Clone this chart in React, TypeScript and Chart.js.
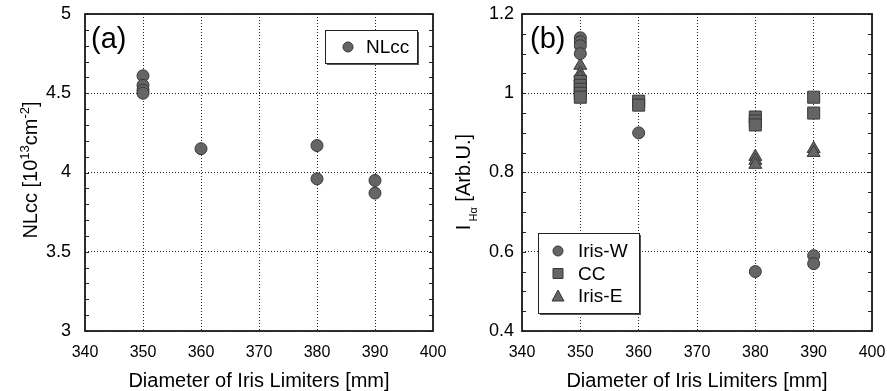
import React, { useEffect, useRef } from "react";
import { Chart, registerables } from "chart.js";
Chart.register(...registerables);

// ---- data ----
const xMin = 340;
const xMax = 400;
const xStep = 10;

const nlccX = [350, 350, 350, 350, 360, 380, 380, 390, 390];
const nlccY = [4.61, 4.55, 4.52, 4.5, 4.15, 4.17, 3.96, 3.95, 3.87];

const irisWX = [350, 350, 350, 350, 360, 380, 390, 390];
const irisWY = [1.14, 1.13, 1.12, 1.1, 0.9, 0.55, 0.59, 0.57];

const ccX = [350, 350, 350, 350, 350, 360, 360, 380, 380, 380, 390, 390];
const ccY = [1.03, 1.02, 1.01, 1.0, 0.99, 0.98, 0.97, 0.94, 0.93, 0.92, 0.99, 0.95];

const irisEX = [350, 350, 350, 380, 380, 380, 390, 390];
const irisEY = [1.07, 1.05, 1.04, 0.84, 0.83, 0.82, 0.86, 0.85];

const FONT = "'Liberation Sans', Arial, Helvetica, sans-serif";
const MARK_FILL = "#656565";
const MARK_EDGE = "#383838";

const pts = (xs: number[], ys: number[]) => xs.map((x, i) => ({ x, y: ys[i] }));
const fmt = (v: any) => String(Number(Number(v).toFixed(2)));

type Part = { t: string; size: number; dy: number };

function drawRotated(ctx: CanvasRenderingContext2D, parts: Part[], baseX: number, centerY: number) {
  ctx.save();
  ctx.translate(baseX, centerY);
  ctx.rotate(-Math.PI / 2);
  ctx.fillStyle = "#000";
  ctx.textBaseline = "alphabetic";
  ctx.textAlign = "left";
  let total = 0;
  for (const p of parts) {
    ctx.font = `${p.size}px ${FONT}`;
    total += ctx.measureText(p.t).width;
  }
  let x = -total / 2;
  for (const p of parts) {
    ctx.font = `${p.size}px ${FONT}`;
    ctx.fillText(p.t, x, p.dy);
    x += ctx.measureText(p.t).width;
  }
  ctx.restore();
}

function drawMarker(ctx: CanvasRenderingContext2D, style: string, x: number, y: number) {
  ctx.save();
  ctx.fillStyle = MARK_FILL;
  ctx.strokeStyle = MARK_EDGE;
  ctx.lineWidth = 1;
  ctx.beginPath();
  if (style === "circle") {
    ctx.arc(x, y, 5, 0, Math.PI * 2);
  } else if (style === "rect") {
    ctx.rect(x - 5, y - 5, 10, 10);
  } else {
    ctx.moveTo(x, y - 6);
    ctx.lineTo(x + 6, y + 5);
    ctx.lineTo(x - 6, y + 5);
    ctx.closePath();
  }
  ctx.fill();
  ctx.stroke();
  ctx.restore();
}

type PanelCfg = {
  label: string;
  yMin: number;
  yMax: number;
  yStep: number;
  yMinor: number;
  yTitle: Part[];
  yTitleX: number;
  yTitleY: number;
  legend: { x: number; y: number; w: number; h: number; rowH: number; symX: number; textX: number; firstY: number; font: number };
  labelPos: { x: number; y: number };
};

function makePlugin(cfg: PanelCfg) {
  return {
    id: "decor",
    afterDraw(chart: any) {
      const ctx: CanvasRenderingContext2D = chart.ctx;
      const a = chart.chartArea;
      const ys = chart.scales.y;
      ctx.save();
      // minor ticks
      ctx.strokeStyle = "#222";
      ctx.lineWidth = 1;
      const n = Math.round((cfg.yMax - cfg.yMin) / cfg.yMinor);
      for (let i = 0; i <= n; i++) {
        const v = cfg.yMin + i * cfg.yMinor;
        const py = Math.round(ys.getPixelForValue(v)) + 0.5;
        ctx.beginPath();
        ctx.moveTo(a.left, py);
        ctx.lineTo(a.left + 4, py);
        ctx.moveTo(a.right, py);
        ctx.lineTo(a.right - 4, py);
        ctx.stroke();
      }
      // frame
      ctx.strokeStyle = "#1a1a1a";
      ctx.lineWidth = 1.8;
      ctx.strokeRect(a.left, a.top, a.right - a.left, a.bottom - a.top);
      // panel label
      ctx.fillStyle = "#000";
      ctx.font = `29px ${FONT}`;
      ctx.textBaseline = "middle";
      ctx.textAlign = "left";
      ctx.fillText(cfg.label, cfg.labelPos.x, cfg.labelPos.y);
      // legend
      const L = cfg.legend;
      ctx.fillStyle = "#555";
      ctx.fillRect(L.x + 2, L.y + 2, L.w, L.h);
      ctx.fillStyle = "#fff";
      ctx.fillRect(L.x, L.y, L.w, L.h);
      ctx.strokeStyle = "#222";
      ctx.lineWidth = 1;
      ctx.strokeRect(L.x + 0.5, L.y + 0.5, L.w, L.h);
      chart.data.datasets.forEach((ds: any, i: number) => {
        const cy = L.firstY + i * L.rowH;
        drawMarker(ctx, ds.pointStyle, L.symX, cy);
        ctx.fillStyle = "#000";
        ctx.font = `${L.font}px ${FONT}`;
        ctx.textBaseline = "middle";
        ctx.textAlign = "left";
        ctx.fillText(ds.label, L.textX, cy + 1);
      });
      // y title
      drawRotated(ctx, cfg.yTitle, cfg.yTitleX, cfg.yTitleY);
      // x title
      ctx.fillStyle = "#000";
      ctx.font = `20px ${FONT}`;
      ctx.textAlign = "center";
      ctx.textBaseline = "alphabetic";
      ctx.fillText("Diameter of Iris Limiters [mm]", (a.left + a.right) / 2, 387);
      ctx.restore();
    },
  };
}

function Panel(props: {
  left: number;
  width: number;
  yAxisWidth: number;
  rightPad: number;
  yPad: number;
  datasets: any[];
  cfg: PanelCfg;
}) {
  const ref = useRef<HTMLCanvasElement>(null);
  useEffect(() => {
    if (!ref.current) return;
    const { cfg } = props;
    const chart = new Chart(ref.current, {
      type: "scatter",
      data: { datasets: props.datasets },
      options: {
        animation: false,
        responsive: false,
        devicePixelRatio: 1,
        layout: { padding: { left: 0, top: 14, right: props.rightPad, bottom: 0 } },
        plugins: { legend: { display: false }, tooltip: { enabled: false } },
        scales: {
          x: {
            type: "linear",
            min: xMin,
            max: xMax,
            ticks: { stepSize: xStep, color: "#000", font: { size: 16, family: FONT }, padding: 12, callback: fmt },
            grid: { color: "#222", lineWidth: 1, drawTicks: false },
            border: { display: false, dash: [1, 2] },
            afterFit: (s: any) => {
              s.height = 60;
              s.paddingLeft = 0;
              s.paddingRight = 0;
            },
          },
          y: {
            type: "linear",
            min: cfg.yMin,
            max: cfg.yMax,
            ticks: { stepSize: cfg.yStep, color: "#000", font: { size: 18, family: FONT }, padding: props.yPad, callback: fmt },
            grid: { color: "#222", lineWidth: 1, drawTicks: false },
            border: { display: false, dash: [1, 2] },
            afterFit: (s: any) => {
              s.width = props.yAxisWidth;
              s.paddingTop = 0;
              s.paddingBottom = 0;
            },
          },
        },
      } as any,
      plugins: [makePlugin(cfg)],
    });
    return () => chart.destroy();
  }, []);
  return (
    <canvas
      ref={ref}
      width={props.width}
      height={391}
      style={{ position: "absolute", left: props.left, top: 0, width: props.width, height: 391 }}
    />
  );
}

const markerBase = {
  backgroundColor: MARK_FILL,
  borderColor: MARK_EDGE,
  borderWidth: 1,
  showLine: false,
};

export default function App() {
  const dsA = [
    { ...markerBase, label: "NLcc", data: pts(nlccX, nlccY), pointStyle: "circle", pointRadius: 6 },
  ];
  const dsB = [
    { ...markerBase, label: "Iris-W", data: pts(irisWX, irisWY), pointStyle: "circle", pointRadius: 6 },
    { ...markerBase, label: "CC", data: pts(ccX, ccY), pointStyle: "rect", pointRadius: 8.5 },
    { ...markerBase, label: "Iris-E", data: pts(irisEX, irisEY), pointStyle: "triangle", pointRadius: 7.5 },
  ];
  const cfgA: PanelCfg = {
    label: "(a)",
    yMin: 3,
    yMax: 5,
    yStep: 0.5,
    yMinor: 0.1,
    yTitle: [
      { t: "NLcc [10", size: 20, dy: 0 },
      { t: "13", size: 13, dy: -8 },
      { t: "cm", size: 20, dy: 0 },
      { t: "-2", size: 13, dy: -8 },
      { t: "]", size: 20, dy: 0 },
    ],
    yTitleX: 37,
    yTitleY: 170,
    legend: { x: 325, y: 30, w: 92, h: 33, rowH: 0, symX: 348, textX: 366, firstY: 47, font: 19 },
    labelPos: { x: 91, y: 40 },
  };
  const cfgB: PanelCfg = {
    label: "(b)",
    yMin: 0.4,
    yMax: 1.2,
    yStep: 0.2,
    yMinor: 0.05,
    yTitle: [
      { t: "I", size: 20, dy: 0 },
      { t: " Hα", size: 11, dy: 7 },
      { t: " [Arb.U.]", size: 20, dy: 0 },
    ],
    yTitleX: 470 - 440,
    yTitleY: 182,
    legend: { x: 538 - 440, y: 233, w: 101, h: 80, rowH: 22.5, symX: 558 - 440, textX: 578 - 440, firstY: 251, font: 19 },
    labelPos: { x: 530 - 440, y: 40 },
  };
  return (
    <div style={{ position: "fixed", left: 0, top: 0, width: 887, height: 391, background: "#fff", overflow: "hidden" }}>
      <Panel left={0} width={460} yAxisWidth={85} rightPad={27} yPad={14} datasets={dsA} cfg={cfgA} />
      <Panel left={440} width={447} yAxisWidth={82} rightPad={15} yPad={8} datasets={dsB} cfg={cfgB} />
    </div>
  );
}
